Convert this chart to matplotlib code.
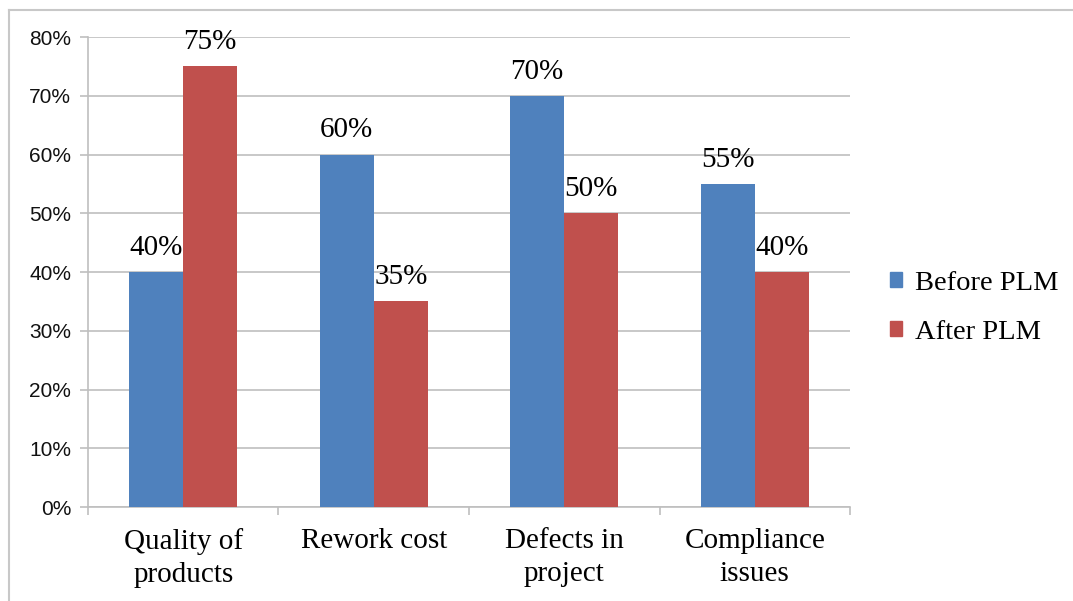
import matplotlib.pyplot as plt
import numpy as np
from matplotlib.patches import Patch
from matplotlib.lines import Line2D
from matplotlib.ticker import FuncFormatter

categories = ["Quality of\nproducts", "Rework cost", "Defects in\nproject", "Compliance\nissues"]
before_plm = [40, 60, 70, 55]
after_plm = [75, 35, 50, 40]
y_ticks = [0, 10, 20, 30, 40, 50, 60, 70, 80]

blue = "#4f81bd"
red = "#c0504d"
grid_gray = "#bfbfbf"
serif = "Liberation Serif"

fig = plt.figure(figsize=(10.73, 6.01), dpi=100)
ax = fig.add_axes([0.082, 0.1564, 0.7102, 0.782])

x = np.arange(len(categories))
w = 0.284
b1 = ax.bar(x - w / 2, before_plm, w, color=blue, zorder=3)
b2 = ax.bar(x + w / 2, after_plm, w, color=red, zorder=3)

for bars in (b1, b2):
    ax.bar_label(bars, fmt="%d%%", padding=8, fontsize=21, family=serif)

ax.set_xlim(-0.5, len(categories) - 0.5)
ax.set_ylim(0, 80)
ax.set_yticks(y_ticks)
ax.yaxis.set_major_formatter(FuncFormatter(lambda v, p: "%d%%" % v))
ax.grid(axis="y", color=grid_gray, linewidth=1.2, zorder=0)

ax.set_xticks(x)
ax.set_xticklabels(categories, fontsize=21, family=serif, linespacing=1.35)
ax.set_xticks(np.arange(len(categories) + 1) - 0.5, minor=True)
ax.tick_params(axis="x", which="major", length=0, pad=15)
ax.tick_params(axis="x", which="minor", length=6, width=1.2, color=grid_gray)
ax.tick_params(axis="y", length=6, width=1.2, color=grid_gray, pad=6,
               labelsize=15, labelcolor="#111111")
for lbl in ax.get_yticklabels():
    lbl.set_family("Liberation Sans")

for side in ("top", "right"):
    ax.spines[side].set_visible(False)
for side in ("left", "bottom"):
    ax.spines[side].set_color(grid_gray)
    ax.spines[side].set_linewidth(1.2)

handles = [Patch(color=blue), Patch(color=red)]
fig.legend(handles, ["Before PLM", "After PLM"], loc="center left",
           bbox_to_anchor=(0.806, 0.488), frameon=False,
           prop={"family": serif, "size": 20.5},
           handlelength=0.4, handleheight=0.4, handletextpad=0.45,
           labelspacing=0.85)

# outer frame edges
fig.add_artist(Line2D([9 / 1073, 1], [1 - 10 / 601, 1 - 10 / 601],
                      transform=fig.transFigure, color="#c8c8c8", linewidth=1.5))
fig.add_artist(Line2D([9 / 1073, 9 / 1073], [0, 1 - 10 / 601],
                      transform=fig.transFigure, color="#c8c8c8", linewidth=1.5))

fig.savefig("out.png", dpi=100)
